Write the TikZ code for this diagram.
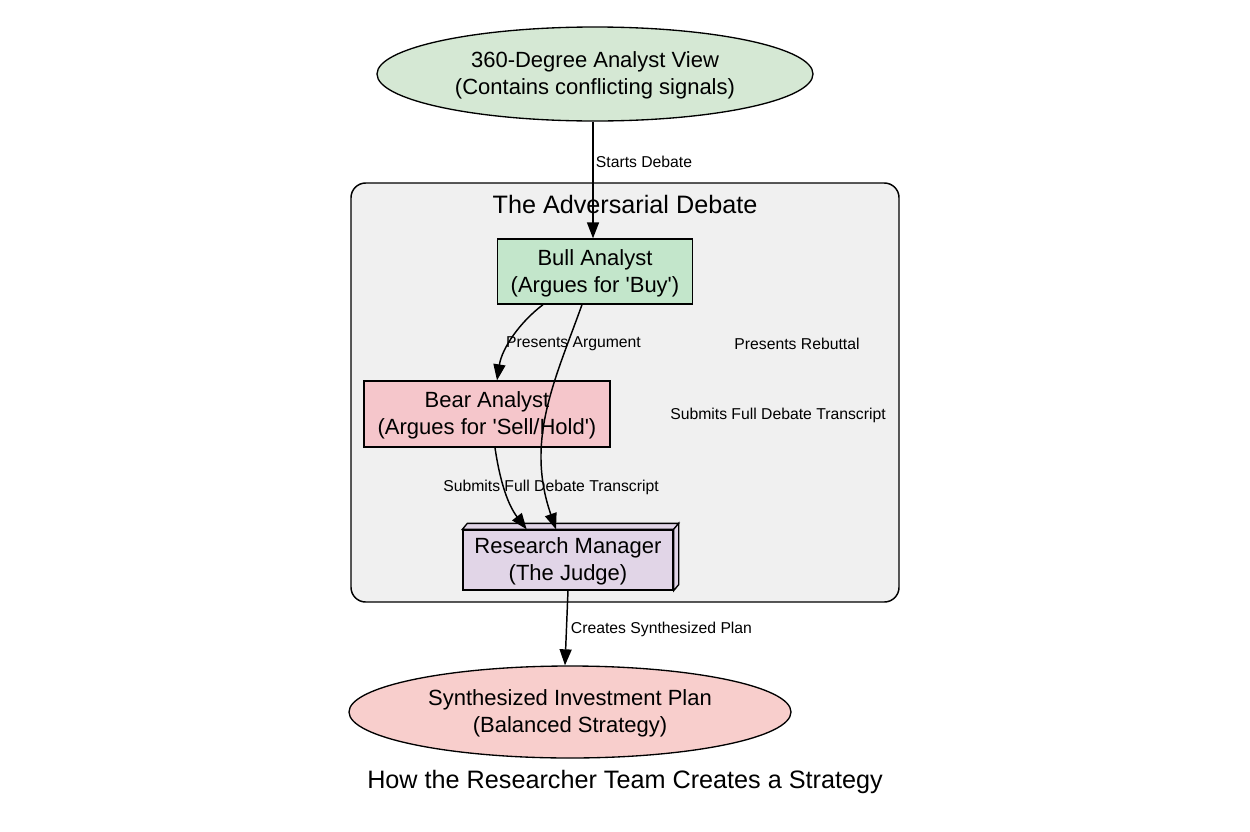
\documentclass[tikz,border=0pt]{standalone}
\usepackage{fontspec}
\setmainfont{Liberation Sans}
\usetikzlibrary{shapes.geometric, arrows.meta, positioning}
\definecolor{viewgreen}{HTML}{D5E8D4}
\definecolor{bullgreen}{HTML}{C3E6CB}
\definecolor{bearred}{HTML}{F5C6CB}
\definecolor{judgeviolet}{HTML}{E1D5E7}
\definecolor{planred}{HTML}{F8CECC}
\definecolor{debategray}{HTML}{F0F0F0}
\tikzset{
  nodefont/.style={font=\fontsize{16.5}{20.25}\selectfont, align=center, inner sep=0pt},
  edgefont/.style={font=\fontsize{11.8}{14}\selectfont, inner sep=0pt},
  roundnode/.style={ellipse, draw, line width=1pt, nodefont},
  boxnode/.style={rectangle, draw, line width=1pt, nodefont},
  flow/.style={line width=1.1pt, -{Triangle[length=12pt,width=9pt]}}
}
\begin{document}
\begin{tikzpicture}[x=0.75pt,y=-0.75pt]
\fill[white] (0,0) rectangle (1250,832);
\useasboundingbox (0,0) rectangle (1250,832);
%
% debate cluster
\draw[line width=1.1pt, fill=debategray, rounded corners=11pt] (351,183) rectangle (899,602);
\node[font=\fontsize{18.9}{22}\selectfont, inner sep=0pt] (debatelabel) at (625,204.5) {The Adversarial Debate};
%
% nodes
\node[roundnode, fill=viewgreen, minimum width=327pt, minimum height=70.5pt] (view) at (595,74)
  {\strut360-Degree Analyst View\\(Contains conflicting signals)};
\node[boxnode, fill=bullgreen, minimum width=146.25pt, minimum height=48.75pt] (bull) at (595,271.5)
  {\strut Bull Analyst\\(Argues for \textquotesingle Buy\textquotesingle)};
\node[boxnode, fill=bearred, minimum width=184.5pt, minimum height=49.5pt] (bear) at (487,414)
  {\strut Bear Analyst\\(Argues for \textquotesingle Sell/Hold\textquotesingle)};
\node[boxnode, fill=judgeviolet, minimum width=157.5pt, minimum height=45pt] (judge) at (568,560)
  {\strut Research Manager\\(The Judge)};
\draw[line width=1pt, fill=judgeviolet] (judge.north west) -- ++(5,-6)
  -- ([xshift=3.75pt,yshift=4.5pt]judge.north east) -- (judge.north east) -- cycle;
\draw[line width=1pt, fill=judgeviolet] (judge.north east) -- ([xshift=3.75pt,yshift=4.5pt]judge.north east)
  -- ([xshift=3.75pt,yshift=4.5pt]judge.south east) -- (judge.south east) -- cycle;
\node[roundnode, fill=planred, minimum width=331.5pt, minimum height=69pt] (plan) at (570,712)
  {\strut Synthesized Investment Plan\\(Balanced Strategy)};
%
% connectors
\draw[flow] ([xshift=-1.5pt]view.south) -- ([xshift=-1.5pt]bull.north);
\draw[flow] ([xshift=-39pt]bull.south) .. controls (520,322) and (502,348) .. ([xshift=7.5pt]bear.north);
\draw[flow] ([xshift=-9.75pt]bull.south) .. controls (555,380) and (525,440) .. ([xshift=-9pt]judge.north);
\draw[flow] ([xshift=6pt]bear.south) .. controls (500,482) and (508,505) .. ([xshift=-31pt]judge.north);
\draw[flow] (judge.south) -- ([xshift=-3.75pt]plan.north);
%
% edge labels
\node[edgefont] (startlabel) at (644,161.5) {Starts Debate};
\node[edgefont] (arglabel) at (573.5,343.5) {Presents Argument};
\node[edgefont] (rebutlabel) at (797,343.5) {Presents Rebuttal};
\node[edgefont] (bulltranscript) at (778,415) {Submits Full Debate Transcript};
\node[edgefont] (beartranscript) at (551,487) {Submits Full Debate Transcript};
\node[edgefont] (planlabel) at (661.5,629) {Creates Synthesized Plan};
%
% title
\node[font=\fontsize{18.9}{22}\selectfont, inner sep=0pt] (title) at (625,782)
  {How the Researcher Team Creates a Strategy};
\end{tikzpicture}
\end{document}
